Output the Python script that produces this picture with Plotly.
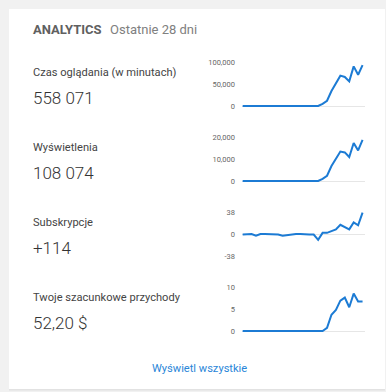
import plotly.graph_objects as go

W, H = 386, 392

days = list(range(28))
watch_time = [0]*17 + [0, 5000, 12000, 34000, 52000, 69000, 66000, 56000, 90000, 71000, 93000]
views = [0]*17 + [0, 1000, 2400, 6800, 10400, 13400, 13000, 10900, 17300, 13900, 18700]
subs = [-1, -1, 0, -3, 0, 0, 0, 0, -1, -3, -2, 0, 0, 0, -1, -1, -1, -10, 2, 2, 5, 8, 16, 12, 8, 20, 15, 37]
revenue = [0]*18 + [0, 0.7, 3.7, 4.8, 6.9, 7.6, 5.4, 8.5, 6.7, 6.7]

labels = ["Czas oglądania (w minutach)", "Wyświetlenia", "Subskrypcje", "Twoje szacunkowe przychody"]
totals = ["558 071", "108 074", "+114", "52,20 $"]
tick_vals = [[0, 50000, 100000], [0, 10000, 20000], [-38, 0, 38], [0, 5, 10]]
tick_text = [["0", "50,000", "100,000"], ["0", "10,000", "20,000"], ["-38", "0", "38"], ["0", "5", "10"]]
series = [watch_time, views, subs, revenue]

title = "ANALYTICS"
subtitle = "Ostatnie 28 dni"
link = "Wyświetl wszystkie"

def py(p):
    return 1 - p / H

def px(p):
    return p / W

fig = go.Figure()
layout = dict(
    width=W, height=H, margin=dict(l=0, r=0, t=0, b=0),
    paper_bgcolor="#f1f1f1", plot_bgcolor="rgba(0,0,0,0)",
    showlegend=False, font=dict(family="Roboto", color="#333"),
)

x_dom = [px(242), px(365)]
for k in range(4):
    top = 62 + 75 * k
    bot = 106 + 75 * k
    lo, hi = tick_vals[k][0], tick_vals[k][-1]
    pad = (hi - lo) * 4 / 44
    xa = "xaxis" if k == 0 else f"xaxis{k+1}"
    ya = "yaxis" if k == 0 else f"yaxis{k+1}"
    fig.add_trace(go.Scatter(
        x=days, y=series[k], mode="lines",
        line=dict(color="#1c7bd4", width=2),
        xaxis="x" if k == 0 else f"x{k+1}", yaxis="y" if k == 0 else f"y{k+1}",
        hoverinfo="skip",
    ))
    layout[xa] = dict(domain=x_dom, range=[-0.15, 27.55], visible=False,
                      anchor="y" if k == 0 else f"y{k+1}")
    layout[ya] = dict(domain=[py(bot + 4), py(top - 4)], range=[lo - pad, hi + pad],
                      anchor="x" if k == 0 else f"x{k+1}",
                      tickvals=tick_vals[k], ticktext=tick_text[k],
                      tickfont=dict(size=7.5, color="#666", family="Roboto"),
                      showgrid=False, zeroline=True, zerolinecolor="#e6e6e6", zerolinewidth=1,
                      showline=False, ticks="", ticklabelstandoff=6, fixedrange=True)

shapes = [
    dict(type="rect", xref="paper", yref="paper", x0=px(9), x1=px(385), y0=py(390.5), y1=py(9),
         fillcolor="#e2e2e2", line=dict(width=0), layer="below"),
    dict(type="rect", xref="paper", yref="paper", x0=px(9), x1=px(385), y0=py(389), y1=py(9),
         fillcolor="white", line=dict(width=0), layer="below"),
]

ann = [
    dict(text="<b>" + title + "</b>", x=px(31), y=py(29), font=dict(size=13, color="#606060")),
    dict(text=subtitle, x=px(108), y=py(29), font=dict(size=13, color="#808080")),
]
for k in range(4):
    ann.append(dict(text=labels[k], x=px(31), y=py(72 + 75.3 * k), font=dict(size=11.1, color="#444")))
    ann.append(dict(text=totals[k], x=px(30.5), y=py(97.5 + 75 * k),
                    font=dict(size=17, color="#333", weight=300)))
for a in ann:
    a.update(xref="paper", yref="paper", xanchor="left", yanchor="middle", showarrow=False)
ann.append(dict(text=link, x=px(199), y=py(368), xref="paper", yref="paper", xanchor="center",
                yanchor="middle", showarrow=False, font=dict(size=11.1, color="#2a86d8")))

layout["shapes"] = shapes
layout["annotations"] = ann
fig.update_layout(**layout)
fig.write_html("out.html", config={"displayModeBar": False},
               post_script="document.body.style.margin='0';document.body.style.background='#f1f1f1';document.body.style.overflow='hidden';")
